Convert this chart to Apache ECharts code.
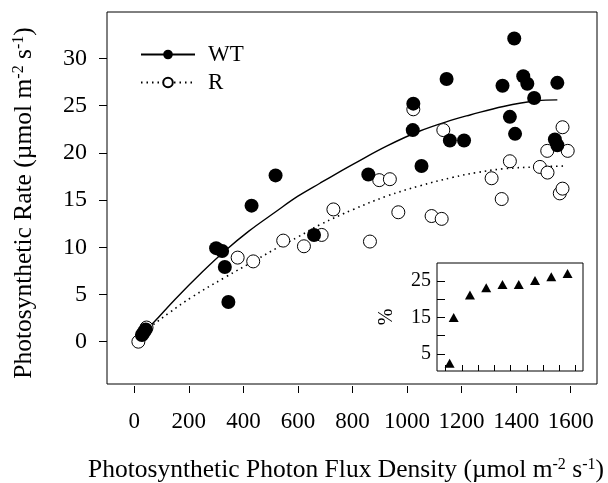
<!DOCTYPE html>
<html><head><meta charset="utf-8">
<script src="https://cdn.jsdelivr.net/npm/echarts@6/dist/echarts.min.js"></script>
<style>html,body{margin:0;padding:0;background:#fff}#c{width:608px;height:483px}</style>
</head><body><div id="c"></div>
<script>
// Wild type (filled circles): [PPFD, rate]
const wtPoints = [
  [28,0.7],[35,1.0],[42,1.3],
  [300,9.9],[322,9.6],[332,7.9],[345,4.2],[430,14.4],[518,17.6],[659,11.3],
  [858,17.7],[1023,25.2],[1021,22.4],[1053,18.6],[1145,27.8],[1157,21.3],[1209,21.3],
  [1350,27.1],[1377,23.8],[1393,32.1],[1396,22.0],[1426,28.1],[1441,27.3],[1466,25.8],
  [1542,21.4],[1551,20.8],[1551,27.4]
];
// R (open circles)
const rPoints = [
  [15,0.0],[45,1.5],[379,8.9],[436,8.5],[546,10.7],[622,10.1],[687,11.3],[730,14.0],
  [864,10.6],[898,17.1],[937,17.2],[968,13.7],[1023,24.6],[1090,13.3],[1127,13.0],[1133,22.4],
  [1310,17.3],[1347,15.1],[1377,19.1],[1487,18.5],[1514,20.2],[1515,17.9],[1560,15.7],
  [1570,16.2],[1570,22.7],[1589,20.2]
];
// Fitted curves
const wtFit = [
  [20,0.6],[70,2.0],[150,4.5],[250,7.4],[332,9.6],[420,11.7],[516,13.7],[600,15.4],
  [682,16.8],[754,18.0],[803,18.8],[925,20.7],[1047,22.3],[1169,23.5],[1231,24.0],
  [1353,24.9],[1475,25.5],[1551,25.6]
];
const rFit = [
  [20,0.8],[60,1.6],[130,3.1],[210,4.7],[332,6.8],[455,8.8],[522,9.9],[601,11.1],
  [682,12.4],[803,14.0],[925,15.4],[1047,16.5],[1169,17.4],[1255,17.9],[1353,18.3],
  [1475,18.5],[1585,18.6]
];
const xTicks = [0,200,400,600,800,1000,1200,1400,1600];
const yTicks = [0,5,10,15,20,25,30];
// Inset: percentage vs PPFD
const insetX = [50,100,300,500,700,900,1100,1300,1500];
const insetPct = [2.4,15.0,21.2,23.2,24.1,24.1,25.2,26.2,27.1];
const insetYTicks = [5,10,15,20,25];
const insetYLabels = [5,15,25];

const FONT = 'Liberation Serif';
const chart = echarts.init(document.getElementById('c'), null, {renderer:'canvas'});
const supRich = {sup:{fontSize:16, verticalAlign:'top', fontFamily:FONT, color:'#000', padding:[0,0,9,0]}};
const plain = v => String(v);

chart.setOption({
  animation:false,
  backgroundColor:'#fff',
  grid:[
    {left:107, top:12, width:490, height:372, show:true, borderColor:'#000', borderWidth:1,
     backgroundColor:'transparent', containLabel:false, outerBoundsMode:'none'},
    {left:437, top:263, width:146, height:108, show:true, borderColor:'#000', borderWidth:1,
     backgroundColor:'#fff', containLabel:false, outerBoundsMode:'none'}
  ],
  legend:{
    data:['WT','R'], orient:'vertical', left:135, top:38, itemWidth:54, itemHeight:12, itemGap:5,
    textStyle:{fontFamily:FONT, fontSize:23, color:'#000', padding:[0,0,0,8]},
    selectedMode:false
  },
  xAxis:[
    {type:'value', gridIndex:0, min:-100, max:1696.4, offset:2,
     axisLine:{show:false, onZero:false}, splitLine:{show:false},
     axisTick:{show:true, length:7, customValues:xTicks, lineStyle:{color:'#000'}},
     axisLabel:{customValues:xTicks, formatter:plain, margin:24, fontFamily:FONT, fontSize:23, color:'#000'},
     name:'Photosynthetic Photon Flux Density (\u00b5mol m{sup|-2} s{sup|-1})',
     nameLocation:'middle', nameGap:71,
     nameTextStyle:{fontFamily:FONT, fontSize:25.5, color:'#000', rich:supRich, padding:[0,12,0,0]}
    },
    {type:'value', gridIndex:1, min:-105, max:1690,
     axisLine:{show:false, onZero:false}, splitLine:{show:false},
     axisTick:{show:true, inside:true, length:6, customValues:xTicks, lineStyle:{color:'#000'}},
     axisLabel:{show:false}
    }
  ],
  yAxis:[
    {type:'value', gridIndex:0, min:-4.48, max:34.9,
     axisLine:{show:false, onZero:false}, splitLine:{show:false},
     axisTick:{show:true, length:8, customValues:yTicks, lineStyle:{color:'#000'}},
     axisLabel:{customValues:yTicks, formatter:plain, margin:20, fontFamily:FONT, fontSize:24, color:'#000'},
     name:'Photosynthetic Rate (\u00b5mol m{sup|-2} s{sup|-1})',
     nameLocation:'middle', nameGap:70, nameRotate:90,
     nameTextStyle:{fontFamily:FONT, fontSize:25.5, color:'#000', rich:supRich, padding:[0,10,0,0]}
    },
    {type:'value', gridIndex:1, min:0.3, max:30,
     axisLine:{show:false, onZero:false}, splitLine:{show:false},
     axisTick:{show:true, inside:true, length:8, customValues:insetYTicks, lineStyle:{color:'#000'}},
     axisLabel:{customValues:insetYLabels, formatter:plain, margin:6, fontFamily:FONT, fontSize:20, color:'#000'},
     name:'%', nameLocation:'middle', nameGap:40, nameRotate:90,
     nameTextStyle:{fontFamily:FONT, fontSize:20, color:'#000'}
    }
  ],
  series:[
    {name:'WT', type:'line', xAxisIndex:0, yAxisIndex:0, data:wtFit, smooth:0.4,
     showSymbol:false, symbol:'circle', symbolSize:10, z:2,
     itemStyle:{color:'#000', opacity:1}, lineStyle:{color:'#000', width:1.4}},
    {name:'R', type:'line', xAxisIndex:0, yAxisIndex:0, data:rFit, smooth:0.4,
     showSymbol:false, symbol:'circle', symbolSize:10, z:2,
     itemStyle:{color:'#fff', borderColor:'#000', borderWidth:1, opacity:1},
     lineStyle:{color:'#000', width:1.6, type:[1.5,4]}},
    {name:'R pts', type:'scatter', xAxisIndex:0, yAxisIndex:0, data:rPoints, symbol:'circle', symbolSize:13, z:3,
     itemStyle:{color:'#fff', borderColor:'#000', borderWidth:1, opacity:1}},
    {name:'WT pts', type:'scatter', xAxisIndex:0, yAxisIndex:0, data:wtPoints, symbol:'circle', symbolSize:14, z:4,
     itemStyle:{color:'#000', opacity:1}},
    {name:'inset', type:'scatter', xAxisIndex:1, yAxisIndex:1,
     data:insetX.map((x,i)=>[x, insetPct[i]]), symbol:'triangle', symbolSize:[10,9], z:5,
     itemStyle:{color:'#000', opacity:1}}
  ]
});
</script></body></html>
